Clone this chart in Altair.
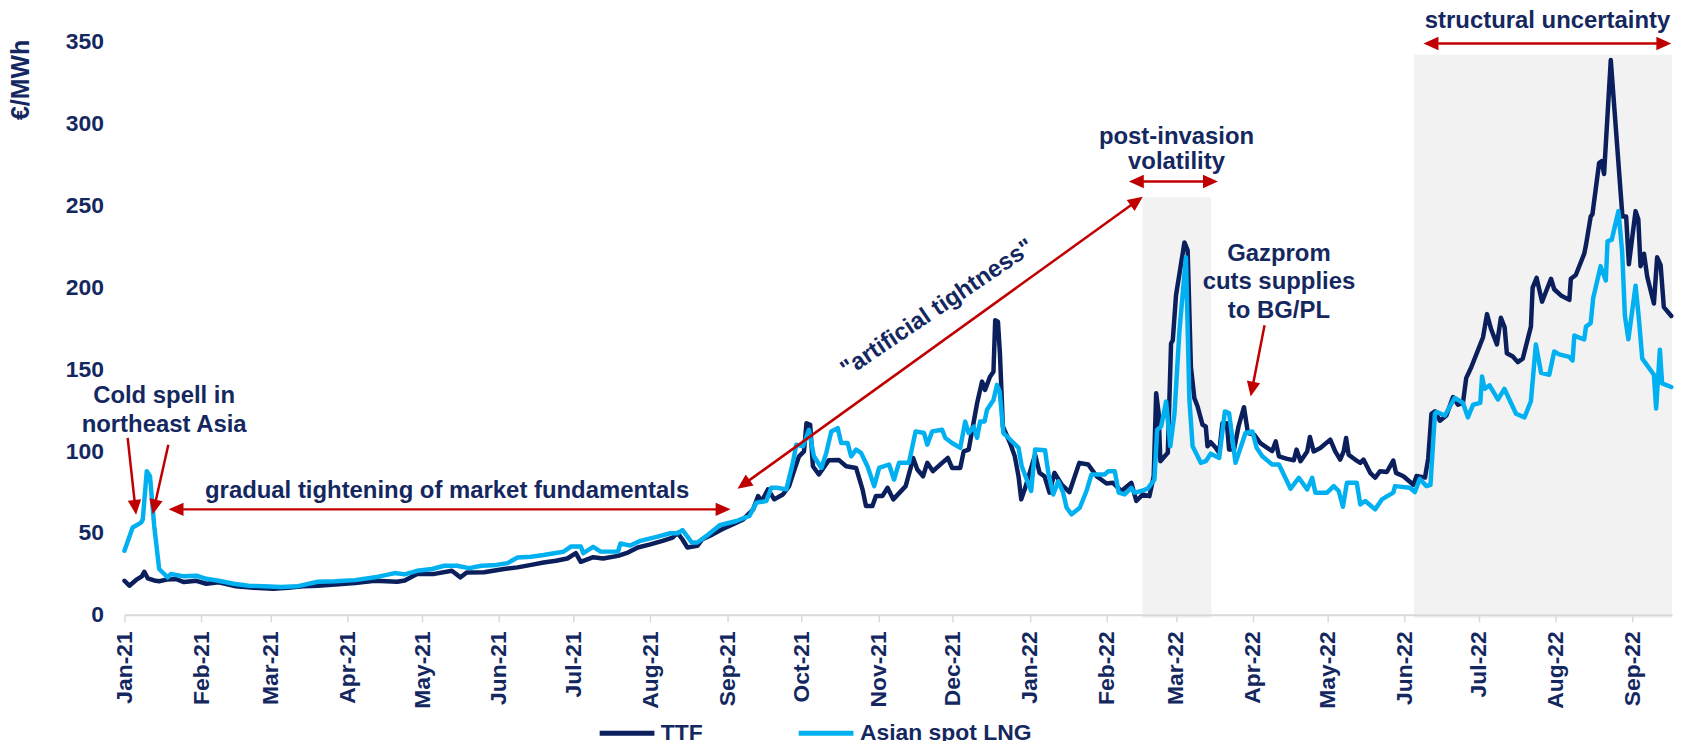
import math
import altair as alt
import pandas as pd

FONT = "Liberation Sans"
NAVY = "#14285f"
TTF_COLOR = "#0a1f5c"
LNG_COLOR = "#00b0f0"
RED = "#c00000"
SHADE = "#f2f2f2"
AXIS_GRAY = "#d9d9d9"

# ---- data: x given as days since 2021-01-01 ----
TTF_DAYS = [0, 2, 4.7, 7, 8, 9.4, 12, 14, 17, 20.7, 24, 29, 33, 38, 45, 52, 60, 66, 72, 78,
            85, 93, 101, 110, 113, 118, 125, 132, 135.5, 138, 145, 153, 158.5, 164, 169, 174,
            178.6, 182, 184, 189, 193, 199, 203, 207, 212, 217, 221, 223, 225, 227, 231, 233,
            237, 241, 245, 249.5, 253.5, 255.5, 257, 259.5, 262, 265.5, 268, 270, 272, 274, 275,
            276.5, 277.6, 280, 284, 288, 291, 295, 297.6, 299, 301.6, 303, 305.6, 307.7, 310,
            315, 317, 318, 319.7, 322, 323.7, 326, 329.7, 332, 333.7, 337, 338.4, 340.4, 343.8,
            345.8, 347, 349, 350.4, 351.1, 352.2, 353, 354.2, 357.1, 359, 360.5, 361.6, 363, 365,
            367.2, 369, 371, 373, 375, 377.9, 381, 385, 388.6, 392, 396, 398.6, 402, 406, 408,
            410.6, 413.3, 415, 416, 417, 417.7, 420.7, 422, 422.7, 424, 427.4, 428.7, 430, 431.4,
            432.7, 434.7, 436, 436.7, 438, 440, 441.4, 442.7, 444.5, 445.4, 447.4, 449.2, 451.4,
            453, 455.5, 458, 460.8, 462.8, 464.2, 465.5, 468.8, 471.5, 472.6, 474.2, 476.9, 478,
            479.5, 482.2, 486.2, 488.2, 490.2, 491.6, 492.6, 493.6, 496.2, 498.3, 499.6, 502.3,
            504.3, 506.3, 509, 511.6, 512.7, 515.7, 519.7, 521, 524.4, 525.7, 527, 528.4, 530.4,
            533, 535.7, 537.7, 539.7, 541, 543, 546.4, 547.8, 549.4, 551, 553.4, 555, 556.5,
            557.4, 559.8, 561.8, 563.8, 567.1, 567.8, 569.4, 571.6, 575.2, 576.5, 579.2, 582.6,
            583.2, 585.2, 588.6, 589.3, 591.2, 591.9, 594.6, 595.6, 596.6, 599.3, 604, 605.5,
            606.6, 609.3, 610.4, 611.3, 612.7, 614, 616.7, 618, 619.4, 620.7, 623.7]
TTF_VALUES = [20.8, 17.8, 21.3, 23.5, 26.3, 22.3, 21, 20.5, 21.5, 21.9, 20, 20.8, 19, 19.9, 17.4,
              16.5, 16, 16.5, 17.5, 17.8,
              18.5, 19.5, 20.8, 20.2, 21, 24.9, 25, 26.9, 22.9, 25.9, 26, 28, 29, 30.5, 32, 33,
              34.4, 37.7, 32.4, 35.2, 34.4, 36, 38, 41.1, 43, 45.2, 47.2, 50, 46, 41.1, 42.1, 46.2,
              49, 52.3, 55, 58.3, 64.4, 72.5, 69.5, 76.6, 70.5, 73.5, 78.6, 88, 96.8, 99.8, 117,
              116, 90.7, 85.7, 94.4, 94.6, 90.7, 89.7, 76.6, 66.4, 66.4, 72.5, 72.5, 77.6, 70.5,
              78.6, 89.7, 95.8, 88.7, 84.6, 92.8, 87.7, 92.8, 95.8, 89.7, 89.7, 99.8, 100.9, 129.2,
              142.4, 137.3, 145.4, 148.4, 179.9, 179, 159.6, 115, 104.9, 96.8, 84.6, 70.5, 76.6, 86.7,
              97.8, 86.7, 84.6, 74.6, 86.7, 79.6, 74.9, 92.8, 91.8, 84.6, 80.2, 80.6, 75.6, 80.6, 69.5,
              73.5, 72.5, 84.6, 135.3, 123, 93.8, 98.9, 165.7, 167.7, 195, 227.4, 222.5, 151.5, 132.3,
              127.2, 116, 115, 102.9, 105.4, 102, 98.9, 117, 117, 100.9, 100.9, 115, 126.8,
              111, 110, 104.9, 102, 100, 105.9, 96.8, 95.2, 94.4, 100.9, 93.8, 99.8, 108.6,
              99.8, 101.9, 107, 99.8, 94.8, 99.8, 108, 97.8, 94.8, 92.8, 94.8, 86.7,
              83.7, 87.7, 87.2, 94.2, 86.7, 84.6, 79.4, 84.8, 83.8, 95.6, 122.8, 124.3, 118.5,
              121.7, 133, 128.3, 129.4, 144.5, 151, 164.1, 169.5, 183.6, 174.7, 165.1, 181.4, 175.6,
              159.7, 157.7, 154.3, 156.4, 176, 199.8, 205.7, 191.2, 205.2, 198.8, 195, 192.3,
              205.2, 207.5, 220.5, 225.8, 243.2, 244.5, 275.8, 277, 269.2, 338.7, 243.2, 243.2,
              214, 246.5, 241.6, 212.9, 220.5, 206.4, 190.1, 218.3, 213.5, 187.9, 182.5]

LNG_DAYS = [0, 3.3, 6.7, 7.4, 9, 10.3, 12, 14, 17.4, 18.7, 24, 29, 33, 38, 44, 50, 56, 63, 70, 78,
            85, 93, 101, 109, 113, 118, 124, 129, 134, 139, 144, 150, 154.5, 158.5, 164, 169,
            177, 180, 184, 185, 189, 192, 199, 200, 204, 208, 215, 220, 223, 225, 227, 228.7, 231,
            234.7, 240, 246.8, 252, 254.8, 258.8, 260.8, 263, 266.9, 269.5, 270.9, 273.6, 276, 278,
            281, 283, 285, 287.6, 289, 291.6, 293, 295, 297, 299.6, 302.3, 304.3, 308.3, 310.3,
            312.3, 316.3, 319, 322.4, 323.7, 325.7, 329.7, 331, 333.7, 337, 339, 340.4, 342.4,
            343.8, 345, 346.8, 347.8, 350.4, 351.8, 352.9, 354.4, 356.5, 360.5, 361.8, 363.8,
            365.6, 367.2, 371.2, 372.5, 374.5, 376.5, 378.5, 379.9, 381.9, 385.2, 387.9, 389.9,
            395.3, 396.6, 399.3, 400.9, 403.3, 406, 407.3, 410, 412.6, 415.3, 416.4, 418, 420,
            421.7, 423.4, 425.4, 428, 429.4, 430.7, 434, 436, 438, 441.4, 443.7, 445.4, 448, 452,
            454.8, 456.5, 458.8, 462.8, 465.5, 470.2, 473.5, 476.9, 478.9, 480.2, 484.9, 487.6,
            489.6, 491.3, 492.9, 496.9, 498.3, 500.3, 504.3, 507, 511.6, 512.3, 518.3, 520.3,
            522.3, 525, 526.6, 528.4, 529, 532.4, 534.4, 536.4, 539.7, 541.7, 543.8, 546.7, 547.4,
            548.4, 550.4, 553.8, 556.4, 561.1, 564.5, 567.1, 569.1, 571.2, 574.5, 576.5, 578.5,
            582.6, 583.9, 584.6, 586.6, 588.6, 589.3, 591.2, 592.2, 595.2, 597.3, 598, 599.7,
            602.4, 603.9, 605, 606.4, 609.3, 610.6, 612, 616.7, 617.6, 619.1, 620, 623.7]
LNG_VALUES = [39.1, 53.3, 56.3, 58.3, 87.7, 84.7, 54.3, 28, 22.9, 24.9, 23.5, 23.9, 22, 20.8, 19,
              17.8, 17.5, 17, 17.5, 20.2,
              20.5, 21.2, 22.9, 25.5, 24.7, 26.9, 28, 30, 30, 28.5, 30, 30.5, 31.6, 35, 35.5, 36.5,
              38.5, 41.7, 41.7, 37.7, 41.5, 38.6, 38.6, 43.6, 42.3, 45.2, 47.8, 49.8, 49.8, 51.8,
              47.8, 44.2, 44.2,
              48.2, 54.7, 57.3, 60.4, 68.5, 69.5, 77.6, 77.6, 76.6, 92.8, 103.9, 102.9, 113, 96.8,
              89.7, 98.9, 112, 114, 104.9, 104.9, 96.8, 100.9, 98.9, 90.7, 78.6, 89.7, 91.8, 82.6,
              92.8, 92.8, 112, 111, 103.9, 112, 113, 108, 104.9, 101.9, 118, 111, 115,
              108, 118, 118, 125.2, 131.2, 140.4, 136.3, 111, 108, 101.9, 90.7, 82.6,
              75.6, 100.9, 100.5, 86.7, 73.5, 81.6, 74.6, 65.4, 61.4, 65.4, 75.6, 85.7,
              85.7, 87.7, 87.7, 74.6, 73.5, 77.6, 74.6, 75.6, 77.1, 82.6, 113, 115, 130.2,
              102.9, 123.2, 173.8, 218.3, 131.2, 102.9, 92.8, 93.8, 98.4, 95.8, 124.2, 123.2, 92.8, 111,
              112, 102, 96.8, 91.8, 91.8, 77, 83.7, 76.6, 83.7, 74.6, 74.6, 78.6,
              75.6, 66, 80.6, 80.6, 67.4, 69.5, 64.4, 70.5, 74.6, 78.6, 77.6, 75,
              83, 78.6, 79.4, 122.8, 123.9, 121.7, 127.1, 132.5, 129.4, 120.6, 128.3, 129.4, 145.6,
              138, 140.1, 131.5, 138, 122.8, 120.6, 130.4, 165.1, 147.7, 146.6, 160.8, 159,
              157.5, 155.3, 170.5, 169.3, 168.2, 176, 178.1, 193.3, 212.9, 204.2, 228, 229.1,
              246.5, 221.5, 182.5, 168.3, 200.9, 181.4, 156.4, 146.6, 126, 161.9, 141.3, 139.1]

SERIES = ["TTF", "Asian spot LNG"]
SERIES_COLORS = [TTF_COLOR, LNG_COLOR]

# shaded periods
SHADE_START_DAYS = [410.5, 520.0]
SHADE_END_DAYS = [438.2, 624.0]
SHADE_TOPS = [255.0, 342.0]

# annotation texts
ANN_TEXTS = ["Cold spell in", "northeast Asia", "gradual tightening of market fundamentals",
             "post-invasion", "volatility", "Gazprom", "cuts supplies", "to BG/PL",
             "structural uncertainty"]
ANN_DAYS = [16.0, 16.0, 130.1, 424.2, 424.2, 465.5, 465.5, 465.5, 573.8]
ANN_VALUES = [129.2, 111.4, 71.5, 287.6, 272.2, 216.1, 198.8, 181.3, 358.0]
ROT_TEXT = ["\"artificial tightness\""]
ROT_DAYS = [327.8]
ROT_VALUES = [187.2]

# arrows (start -> tip)
ARROW_START_DAY = [1.3, 17.7, 17.8, 247.2, 405.0, 459.7, 523.8]
ARROW_START_VAL = [108.0, 103.9, 64.4, 77.0, 264.6, 176.8, 348.8]
ARROW_END_DAY = [4.7, 11.4, 244.4, 410.6, 440.9, 454.1, 623.7]
ARROW_END_VAL = [61.1, 61.4, 64.4, 255.3, 264.6, 133.3, 348.8]
ARROW_DOUBLE = [False, False, True, True, True, False, True]

MONTH_TICKS = [(2021, m) for m in range(1, 13)] + [(2022, m) for m in range(1, 10)]

# ---- geometry helpers ----
W, H = 1555, 576
END_DAY = 624
PX_PER_DAY = W / END_DAY
PX_PER_UNIT = H / 350
HEAD_R = 7.5
BASE = pd.Timestamp("2021-01-01")


def to_dates(days):
    return BASE + pd.to_timedelta(pd.Series(days, dtype=float), unit="D")


def head(tip_d, tip_v, from_d, from_v):
    dx = (tip_d - from_d) * PX_PER_DAY
    dy = -(tip_v - from_v) * PX_PER_UNIT
    L = math.hypot(dx, dy)
    ux, uy = dx / L, dy / L
    ang = math.degrees(math.atan2(ux, -uy)) % 360
    cd = tip_d - HEAD_R * ux / PX_PER_DAY
    cv = tip_v + HEAD_R * uy / PX_PER_UNIT
    return cd, cv, ang


rule_rows, head_rows = [], []
for sd, sv, ed, ev, dbl in zip(ARROW_START_DAY, ARROW_START_VAL, ARROW_END_DAY, ARROW_END_VAL, ARROW_DOUBLE):
    ecd, ecv, eang = head(ed, ev, sd, sv)
    head_rows.append((ecd, ecv, eang))
    if dbl:
        scd, scv, sang = head(sd, sv, ed, ev)
        head_rows.append((scd, scv, sang))
    else:
        scd, scv = sd, sv
    rule_rows.append((scd, scv, ecd, ecv))

lines_df = pd.concat([
    pd.DataFrame({"date": to_dates(TTF_DAYS), "value": TTF_VALUES, "series": SERIES[0]}),
    pd.DataFrame({"date": to_dates(LNG_DAYS), "value": LNG_VALUES, "series": SERIES[1]}),
], ignore_index=True)

shade_df = pd.DataFrame({"date": to_dates(SHADE_START_DAYS), "date2": to_dates(SHADE_END_DAYS),
                         "value": [-2.0] * len(SHADE_TOPS), "value2": SHADE_TOPS})

rule_df = pd.DataFrame({"date": to_dates([r[0] for r in rule_rows]), "value": [r[1] for r in rule_rows],
                        "date2": to_dates([r[2] for r in rule_rows]), "value2": [r[3] for r in rule_rows]})
head_df = pd.DataFrame({"date": to_dates([h[0] for h in head_rows]), "value": [h[1] for h in head_rows],
                        "angle": [h[2] for h in head_rows]})
ann_df = pd.DataFrame({"date": to_dates(ANN_DAYS), "value": ANN_VALUES, "text": ANN_TEXTS})
rot_df = pd.DataFrame({"date": to_dates(ROT_DAYS), "value": ROT_VALUES, "text": ROT_TEXT})

x_main = alt.X(
    "date:T",
    scale=alt.Scale(domain=[alt.DateTime(year=2021, month=1, date=1),
                            alt.DateTime(year=2022, month=9, date=17)]),
    axis=alt.Axis(values=[alt.DateTime(year=y, month=m, date=1) for y, m in MONTH_TICKS],
                  format="%b-%y", title=None, labelAngle=270, labelAlign="right",
                  labelBaseline="middle", labelFont=FONT, labelFontSize=23, labelFontWeight="bold",
                  labelColor=NAVY, labelPadding=9, labelFlush=False, labelOverlap=False,
                  domainColor=AXIS_GRAY, domainWidth=2, tickColor=AXIS_GRAY, tickWidth=1.5,
                  tickSize=7, grid=False, zindex=1),
)
y_main = alt.Y(
    "value:Q",
    scale=alt.Scale(domain=[0, 350], nice=False),
    axis=alt.Axis(values=[0, 50, 100, 150, 200, 250, 300, 350], title="€/MWh", domain=False,
                  ticks=False, grid=False, labelFont=FONT, labelFontSize=23, labelFontWeight="bold",
                  labelColor=NAVY, labelPadding=21, titleFont=FONT, titleFontSize=25,
                  titleFontWeight="bold", titleColor=NAVY, titleAngle=270, titleAlign="center",
                  titleBaseline="middle", titleX=-104, titleY=38),
)

shades = alt.Chart(shade_df).mark_rect(color=SHADE).encode(
    x="date:T", x2="date2:T", y="value:Q", y2="value2:Q")

lines = alt.Chart(lines_df).mark_line(strokeWidth=4.5, strokeJoin="round", strokeCap="round").encode(
    x=x_main, y=y_main,
    color=alt.Color("series:N", scale=alt.Scale(domain=SERIES, range=SERIES_COLORS),
                    legend=alt.Legend(orient="none", legendX=475, legendY=665, direction="horizontal",
                                      title=None, symbolType="stroke", symbolSize=3025,
                                      symbolStrokeWidth=5, labelFont=FONT, labelFontSize=23,
                                      labelFontWeight="bold", labelColor=NAVY, labelOffset=4,
                                      columnPadding=85, labelLimit=400)),
)

rules = alt.Chart(rule_df).mark_rule(color=RED, strokeWidth=2.5).encode(
    x="date:T", x2="date2:T", y="value:Q", y2="value2:Q")

heads = alt.Chart(head_df).mark_point(shape="M0,-1L0.9,1L-0.9,1Z", filled=True, size=225,
                                      color=RED, opacity=1, strokeWidth=0).encode(
    x="date:T", y="value:Q", angle=alt.Angle("angle:Q", scale=None))

texts = alt.Chart(ann_df).mark_text(font=FONT, fontSize=24, fontWeight="bold", color=NAVY,
                                    align="center", baseline="alphabetic").encode(
    x="date:T", y="value:Q", text="text:N")

rot_text = alt.Chart(rot_df).mark_text(font=FONT, fontSize=24, fontWeight="bold", color=NAVY,
                                       align="center", baseline="middle", angle=326).encode(
    x="date:T", y="value:Q", text="text:N")

chart = alt.layer(shades, lines, rules, heads, texts, rot_text).properties(
    width=W, height=H,
    autosize=alt.AutoSizeParams(type="none"),
    padding={"left": 117, "top": 32, "right": 6, "bottom": 125},
).configure_view(stroke=None)

chart.save("out.html", embed_options={"renderer": "svg", "actions": False})
